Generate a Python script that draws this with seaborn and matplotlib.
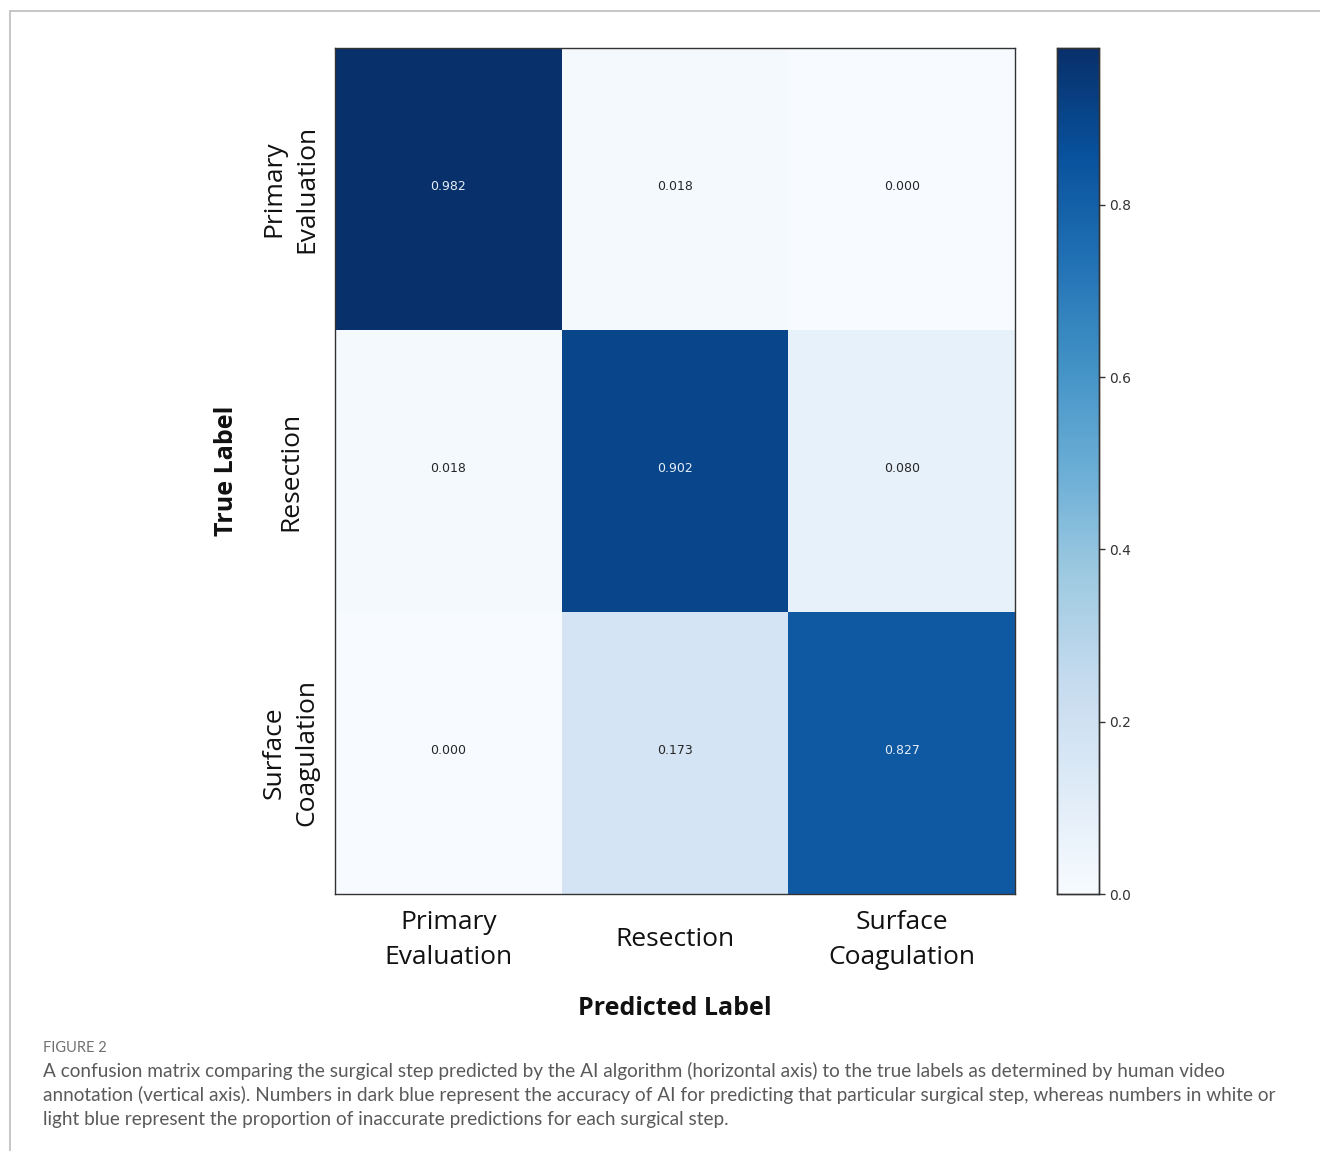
import numpy as np
import pandas as pd
import matplotlib
matplotlib.use("Agg")
import matplotlib.pyplot as plt
import matplotlib.transforms as mtransforms
import seaborn as sns
from matplotlib.lines import Line2D

classes = ["Primary\nEvaluation", "Resection", "Surface\nCoagulation"]
row_primary = [0.982, 0.018, 0.000]
row_resection = [0.018, 0.902, 0.080]
row_surface = [0.000, 0.173, 0.827]
cbar_ticks = [0.0, 0.2, 0.4, 0.6, 0.8]

caption_head = "FIGURE 2"
caption_lines = [
    "A confusion matrix comparing the surgical step predicted by the AI algorithm (horizontal axis) to the true labels as determined by human video",
    "annotation (vertical axis). Numbers in dark blue represent the accuracy of AI for predicting that particular surgical step, whereas numbers in white or",
    "light blue represent the proportion of inaccurate predictions for each surgical step.",
]

df = pd.DataFrame([row_primary, row_resection, row_surface], index=classes, columns=classes)

sns.set_theme(style="white")
W, H = 1320, 1151
fig = plt.figure(figsize=(W / 100, H / 100), dpi=100)
ax = fig.add_axes([335 / W, 1 - 894 / H, 680 / W, 846 / H])
cax = fig.add_axes([1057 / W, 1 - 894 / H, 42 / W, 846 / H])

vmax = float(df.values.max())
sns.heatmap(df, ax=ax, cbar_ax=cax, cmap="Blues", vmin=0, vmax=vmax,
            annot=False, cbar_kws={"ticks": cbar_ticks})

off = mtransforms.offset_copy(ax.transData, fig=fig, x=0, y=2, units="dots")
for i in range(df.shape[0]):
    for j in range(df.shape[1]):
        v = df.iloc[i, j]
        color = "#e6edf7" if v > vmax / 2 else "#262626"
        ax.text(j + 0.5, i + 0.5, f"{v:.3f}", ha="center", va="center",
                fontsize=9, color=color, family="DejaVu Sans", transform=off)

for s in ax.spines.values():
    s.set_visible(True)
    s.set_color("#333333")
    s.set_linewidth(1.0)

label_font = ["Open Sans", "DejaVu Sans"]
ax.tick_params(axis="x", length=0, pad=33)
ax.tick_params(axis="y", length=0, pad=32)
ax.set_xticklabels(classes, rotation=0, fontsize=19, family=label_font, color="#111111",
                   linespacing=1.55, va="center", ha="center")
ax.set_yticklabels(classes, rotation=90, fontsize=19, family=label_font, color="#111111",
                   va="center", ha="center", linespacing=1.45)
ax.set_xlabel("Predicted Label", fontsize=18, fontweight="bold", family=label_font,
              color="#111111", labelpad=19)
ax.set_ylabel("True Label", fontsize=18, fontweight="bold", family=label_font,
              color="#111111", labelpad=16)

cax.tick_params(axis="y", length=4, width=1, color="#333333", labelsize=10,
                labelcolor="#333333", pad=3, right=True)
for s in cax.spines.values():
    s.set_visible(True)
    s.set_color("#333333")
    s.set_linewidth(1.0)
cax.set_yticklabels([f"{t:.1f}" for t in cbar_ticks], family="DejaVu Sans")

# figure frame lines
fig.add_artist(Line2D([10 / W, 1], [1 - 11 / H, 1 - 11 / H], color="#bdbdbd", lw=1.2,
                      transform=fig.transFigure))
fig.add_artist(Line2D([10 / W, 10 / W], [0, 1 - 11 / H], color="#bdbdbd", lw=1.2,
                      transform=fig.transFigure))

cap_font = ["Lato", "DejaVu Sans"]
fig.text(43 / W, 1 - 1048 / H, caption_head, fontsize=10.5, color="#707070",
         family=cap_font, va="center", ha="left")
for k, line in enumerate(caption_lines):
    fig.text(43 / W, 1 - (1071 + 24 * k) / H, line, fontsize=13.7, color="#5a5a5a",
             family=cap_font, va="center", ha="left")

fig.savefig("out.png", dpi=100, facecolor="white")
